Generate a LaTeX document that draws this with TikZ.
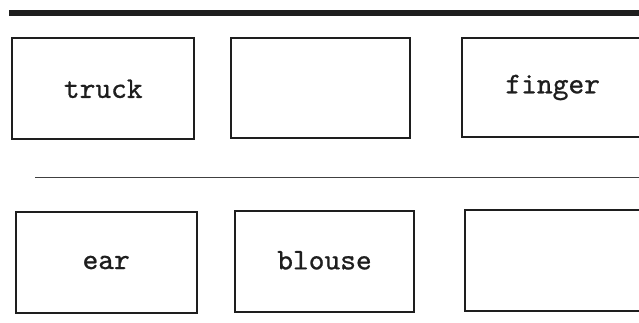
\documentclass[tikz,border=0pt]{standalone}
\usepackage{fontspec}
\newfontfamily\cardfont{lmmono10-regular.otf}[FakeBold=0.8]
\definecolor{ink}{HTML}{1E1E1E}
\begin{document}
\begin{tikzpicture}[x=1pt,y=-1pt,
  card/.style={draw=ink, line width=1.7pt, inner sep=0pt, font=\cardfont\fontsize{30}{30}\selectfont, text=ink},
  rule/.style={draw=ink!85, line width=1.5pt}]
\clip (0,0) rectangle (639,322);
\fill[white] (0,0) rectangle (639,322);
% top bar
\fill[ink] (9,9.5) rectangle (639,16);
% row 1
\node[card, minimum width=182pt, minimum height=101pt] (truck) at (103.3,88.8) {truck};
\node[card, minimum width=179pt, minimum height=100pt] (empty1) at (320.7,88.3) {};
\node[card, minimum width=182pt, minimum height=99.6pt] (finger) at (552.7,87.5) {finger};
% separator
\coordinate (ls) at (35,177.3);
\coordinate (le) at (639,177.3);
\draw[rule] (ls) -- (le);
% row 2
\node[card, minimum width=181pt, minimum height=101.6pt] (ear) at (106.2,262.5) {ear};
\node[card, minimum width=179pt, minimum height=101pt] (blouse) at (324.5,261.2) {\raisebox{2pt}{blouse}};
\node[card, minimum width=180pt, minimum height=100.7pt] (empty2) at (555,260.4) {};
\end{tikzpicture}
\end{document}
